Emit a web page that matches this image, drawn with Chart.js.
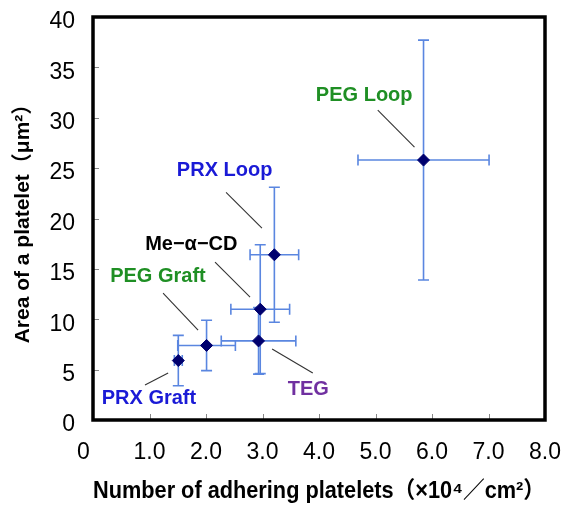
<!DOCTYPE html>
<html><head><meta charset="utf-8">
<script src="https://cdn.jsdelivr.net/npm/chart.js@4.4.1/dist/chart.umd.min.js"></script>
<style>html,body{margin:0;padding:0;background:#fff;}canvas{display:block;}</style>
</head><body>
<canvas id="c" width="567" height="506"></canvas>
<script>
// ---- data ----
const sampleNames = ['PRX Graft', 'PEG Graft', 'TEG', 'Me\u2212\u03b1\u2212CD', 'PRX Loop', 'PEG Loop'];
const plateletCount = [1.51, 2.01, 2.93, 2.96, 3.21, 5.85];      // x (×10^4/cm²)
const plateletCountErr = [0.07, 0.51, 0.66, 0.52, 0.43, 1.16];
const plateletArea = [5.9, 7.4, 7.85, 11.0, 16.4, 25.8];          // y (µm²)
const plateletAreaErr = [2.5, 2.5, 3.3, 6.4, 6.7, 11.9];
const xTickLabels = ['0   ', '1.0', '2.0', '3.0', '4.0', '5.0', '6.0', '7.0', '8.0'];
const yTickLabels = ['0', '5', '10', '15', '20', '25', '30', '35', '40'];

// annotation labels (data-coordinate anchors) and leader lines
const labelColors = ['#1a1ad6', '#1f8f24', '#7030a0', '#000000', '#1a1ad6', '#1f8f24'];
const labelAt = [[0.99, 2.1], [1.15, 14.2], [3.81, 3.0], [1.74, 17.45], [2.33, 24.8], [4.80, 32.2]];
const leaderFrom = [[0.92, 3.47], [1.24, 12.6], [3.17, 7.04], [2.16, 15.67], [2.355, 22.6], [5.04, 30.75]];
const leaderTo = [[1.33, 4.66], [1.86, 8.93], [3.89, 4.66], [2.78, 12.2], [2.99, 19.05], [5.69, 27.08]];

const FONT = "'Liberation Sans', Arial, 'Noto Sans CJK JP', sans-serif";
const errColor = '#5a86e0';

const points = plateletCount.map((v, i) => ({x: v, y: plateletArea[i]}));

const annot = {
  id: 'annot',
  beforeDatasetsDraw(chart) {
    const {ctx, scales: {x, y}} = chart;
    ctx.save();
    ctx.strokeStyle = errColor;
    ctx.lineWidth = 1.6;
    const cap = 5.5;
    for (let i = 0; i < points.length; i++) {
      const px = x.getPixelForValue(plateletCount[i]);
      const py = y.getPixelForValue(plateletArea[i]);
      const x1 = x.getPixelForValue(plateletCount[i] - plateletCountErr[i]);
      const x2 = x.getPixelForValue(plateletCount[i] + plateletCountErr[i]);
      const y1 = y.getPixelForValue(plateletArea[i] - plateletAreaErr[i]);
      const y2 = y.getPixelForValue(plateletArea[i] + plateletAreaErr[i]);
      ctx.beginPath();
      ctx.moveTo(x1, py); ctx.lineTo(x2, py);
      ctx.moveTo(x1, py - cap); ctx.lineTo(x1, py + cap);
      ctx.moveTo(x2, py - cap); ctx.lineTo(x2, py + cap);
      ctx.moveTo(px, y1); ctx.lineTo(px, y2);
      ctx.moveTo(px - cap, y1); ctx.lineTo(px + cap, y1);
      ctx.moveTo(px - cap, y2); ctx.lineTo(px + cap, y2);
      ctx.stroke();
    }
    // leader lines
    ctx.strokeStyle = '#333';
    ctx.lineWidth = 1.1;
    for (let i = 0; i < leaderFrom.length; i++) {
      ctx.beginPath();
      ctx.moveTo(x.getPixelForValue(leaderFrom[i][0]), y.getPixelForValue(leaderFrom[i][1]));
      ctx.lineTo(x.getPixelForValue(leaderTo[i][0]), y.getPixelForValue(leaderTo[i][1]));
      ctx.stroke();
    }
    ctx.restore();
  },
  afterDraw(chart) {
    const {ctx, chartArea: a, scales: {x, y}} = chart;
    ctx.save();
    // inward tick marks
    ctx.strokeStyle = '#888';
    ctx.lineWidth = 1;
    ctx.beginPath();
    y.ticks.forEach(t => {
      const py = Math.round(y.getPixelForValue(t.value)) + 0.5;
      ctx.moveTo(a.left, py); ctx.lineTo(a.left + 6, py);
    });
    x.ticks.forEach(t => {
      const px = Math.round(x.getPixelForValue(t.value)) + 0.5;
      ctx.moveTo(px, a.bottom); ctx.lineTo(px, a.bottom - 6);
    });
    ctx.stroke();
    // frame
    ctx.strokeStyle = '#000';
    ctx.lineWidth = 3.5;
    ctx.strokeRect(a.left, a.top, a.right - a.left, a.bottom - a.top);
    // text labels
    ctx.font = 'bold 20px ' + FONT;
    ctx.textAlign = 'center';
    ctx.textBaseline = 'middle';
    for (let i = 0; i < sampleNames.length; i++) {
      ctx.fillStyle = labelColors[i];
      ctx.fillText(sampleNames[i], x.getPixelForValue(labelAt[i][0]), y.getPixelForValue(labelAt[i][1]));
    }
    ctx.restore();
  }
};

new Chart(document.getElementById('c'), {
  type: 'scatter',
  data: {
    datasets: [{
      data: points,
      pointStyle: 'rectRot',
      pointRadius: 6,
      pointHoverRadius: 6,
      backgroundColor: '#00006e',
      borderColor: '#00006e',
      borderWidth: 1
    }]
  },
  options: {
    responsive: false,
    animation: false,
    devicePixelRatio: 1,
    layout: {padding: {top: 17, right: 22, left: 0, bottom: 0}},
    plugins: {legend: {display: false}, tooltip: {enabled: false}},
    scales: {
      x: {
        type: 'linear', min: 0, max: 8,
        afterFit(s) { s.height = 86; s.paddingLeft = 0; s.paddingRight = 0; },
        grid: {display: false, drawTicks: false},
        border: {display: false},
        ticks: {
          stepSize: 1, padding: 19, color: '#000', maxRotation: 0, autoSkip: false,
          font: {family: FONT, size: 23},
          callback: (v, i) => xTickLabels[i]
        },
        title: {
          display: true,
          text: 'Number of adhering platelets\uff08\u00d710\u2074\uff0fcm\u00b2\uff09',
          color: '#000',
          font: {family: FONT, size: 23, weight: 'bold'},
          padding: {top: 0, bottom: 1}
        }
      },
      y: {
        type: 'linear', min: 0, max: 40,
        afterFit(s) { s.width = 93; s.paddingTop = 0; s.paddingBottom = 0; },
        grid: {display: false, drawTicks: false},
        border: {display: false},
        ticks: {
          stepSize: 5, padding: 18, color: '#000', labelOffset: 5,
          font: {family: FONT, size: 23},
          callback: (v, i) => yTickLabels[i]
        },
        title: {
          display: true,
          text: 'Area of a platelet\uff08\u03bcm\u00b2\uff09',
          color: '#000',
          font: {family: FONT, size: 21, weight: 'bold'},
          padding: {top: 11, bottom: 0}
        }
      }
    }
  },
  plugins: [annot]
});
</script>
</body></html>
